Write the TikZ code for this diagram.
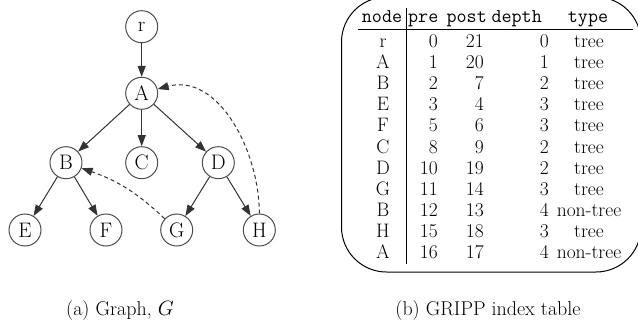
\documentclass[tikz,border=0pt]{standalone}
\usetikzlibrary{arrows.meta}
\begin{document}
\begin{tikzpicture}[x=1pt,y=-1pt,
  vtx/.style={circle,draw=black!70,line width=1pt,minimum size=32pt,inner sep=0pt,font=\fontsize{21}{25}\selectfont},
  tedge/.style={draw=black!80,line width=1pt,-{Stealth[length=11pt,width=8pt,inset=0pt]}},
  nedge/.style={tedge,dashed,dash pattern=on 4pt off 3pt},
  cell/.style={inner sep=0pt,font=\fontsize{19.5}{22}\selectfont},
  hcell/.style={inner sep=0pt,font=\fontsize{19.5}{22}\selectfont\ttfamily},
  captxt/.style={inner sep=0pt,font=\fontsize{20}{24}\selectfont}]
\useasboundingbox (0,0) rectangle (638,332);
\begin{scope}
\clip (0,0) rectangle (638,332);
% graph
\node[vtx] (r) at (141.7,26.7) {r};
\node[vtx] (A) at (141.7,93.3) {A};
\node[vtx] (B) at (66,162.7) {B};
\node[vtx] (C) at (141.7,162.7) {C};
\node[vtx] (D) at (218.3,162.7) {D};
\node[vtx] (E) at (25,230) {E};
\node[vtx] (F) at (106,230) {F};
\node[vtx] (G) at (176.7,230) {G};
\node[vtx] (H) at (259.3,230) {H};
\draw[tedge] (r) -- (A);
\draw[tedge] (A) -- (B);
\draw[tedge] (A) -- (C);
\draw[tedge] (A) -- (D);
\draw[tedge] (B) -- (E);
\draw[tedge] (B) -- (F);
\draw[tedge] (D) -- (G);
\draw[tedge] (D) -- (H);
\draw[nedge] (G) to[bend right=12] (B);
\draw[nedge] (H.north) to[out=90,in=15] (A);
% table frame
\draw[line width=1pt,rounded corners=45pt] (341.5,-3) rectangle (641,272);
\coordinate (hl) at (358,29);
\coordinate (hr) at (633,29);
\coordinate (vt) at (406.7,8);
\coordinate (vb) at (406.7,263.5);
\draw[line width=0.9pt] (hl) -- (hr);
\draw[line width=0.9pt] (vt) -- (vb);
% header
\node[hcell,anchor=base] (h1) at (382,22.3) {node};
\node[hcell,anchor=base east] (h2) at (438.5,22.3) {pre};
\node[hcell,anchor=base east] (h3) at (487,22.3) {post};
\node[hcell,anchor=base east] (h4) at (542,22.3) {depth};
\node[hcell,anchor=base] (h5) at (588,22.3) {type};
% rows
\foreach \n/\pre/\post/\dep/\typ [count=\i from 0] in
 {r/0/21/0/tree, A/1/20/1/tree, B/2/7/2/tree, E/3/4/3/tree, F/5/6/3/tree,
  C/8/9/2/tree, D/10/19/2/tree, G/11/14/3/tree, B/12/13/4/non-tree,
  H/15/18/3/tree, A/16/17/4/non-tree}{
  \pgfmathsetmacro{\yy}{47.3+21.15*\i}
  \node[cell,anchor=base] (n\i) at (383,\yy) {\n};
  \node[cell,anchor=base east] (p\i) at (438,\yy) {\pre};
  \node[cell,anchor=base east] (q\i) at (484,\yy) {\post};
  \node[cell,anchor=base east] (d\i) at (549,\yy) {\dep};
  \node[cell,anchor=base] (t\i) at (589,\yy) {\typ};
}
% captions
\node[captxt,anchor=base] (capa) at (120,315) {(a) Graph, $G$};
\node[captxt,anchor=base] (capb) at (488,315) {(b) GRIPP index table};
\end{scope}
\end{tikzpicture}
\end{document}
